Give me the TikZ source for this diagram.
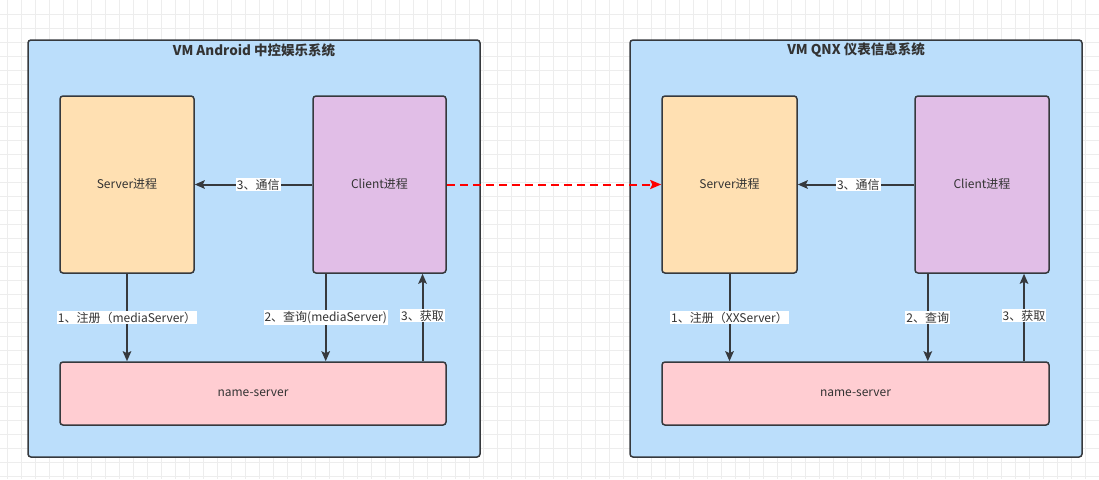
\documentclass[tikz,border=0pt]{standalone}
\usepackage{fontspec}
\setmainfont{Noto Sans CJK SC}
\usetikzlibrary{calc,positioning,arrows.meta}
\definecolor{vmblue}{HTML}{BBDEFB}
\definecolor{srvorange}{HTML}{FFE0B2}
\definecolor{clipurple}{HTML}{E1BEE7}
\definecolor{nspink}{HTML}{FFCDD2}
\definecolor{edge}{HTML}{36393D}
\definecolor{txt}{HTML}{333333}
\tikzset{
  vm/.style={draw=edge,line width=1.5pt,rounded corners=3pt,fill=vmblue,
             minimum width=452pt,minimum height=417pt},
  proc/.style={draw=edge,line width=1.5pt,rounded corners=3pt,font=\fontsize{12}{14}\selectfont,
               text=txt,minimum height=177pt},
  lbl/.style={fill=white,inner sep=1pt,font=\fontsize{12}{14}\selectfont,text=txt},
  arr/.style={-{Stealth[length=10pt,width=8.5pt,inset=2pt]},line width=2pt,edge},
  rpc/.style={-{Stealth[length=11pt,width=9pt,inset=2pt]},line width=2pt,red,
              dash pattern=on 8pt off 5pt}
}
\begin{document}
\begin{tikzpicture}[x=1pt,y=-1pt]
  \useasboundingbox (0,0) rectangle (1099,479);
  % grid
  \foreach \gx in {0,...,78} \draw[line width=1pt,black!7] (7+14*\gx,0) -- (7+14*\gx,479);
  \foreach \gy in {1,...,34} \draw[line width=1pt,black!7] (0,14*\gy) -- (1099,14*\gy);

  % VM Android
  \node[vm] (av) at (254,248.5) {};
  \node[font=\bfseries\fontsize{13.5}{15}\selectfont,text=txt] (avt) at (254,50) {VM Android 中控娱乐系统};
  \node[proc,fill=srvorange,minimum width=134pt] (as) at (127,184.5) {Server进程};
  \node[proc,fill=clipurple,minimum width=133pt] (ac) at (379.5,184.5) {Client进程};
  \node[proc,fill=nspink,minimum width=386pt,minimum height=63pt] (an) at (253,393.5) {name-server};

  % VM QNX
  \node[vm] (qv) at (856,248.5) {};
  \node[font=\bfseries\fontsize{13.5}{15}\selectfont,text=txt] (qvt) at (856,50) {VM QNX 仪表信息系统};
  \node[proc,fill=srvorange,minimum width=135pt] (qs) at (729.5,184.5) {Server进程};
  \node[proc,fill=clipurple,minimum width=134pt] (qc) at (982,184.5) {Client进程};
  \node[proc,fill=nspink,minimum width=387pt,minimum height=63pt] (qn) at (855.5,393.5) {name-server};

  % Android arrows
  \draw[arr] (ac.west) -- (as.east) node[lbl,pos=0.46] {3、通信};
  \draw[arr] (as.south) -- (as.south |- an.north) node[lbl,midway] {1、注册（mediaServer）};
  \coordinate (aq) at ($(ac.south west)!0.1!(ac.south east)$);
  \coordinate (ag) at ($(ac.south west)!0.82!(ac.south east)$);
  \draw[arr] (aq) -- (aq |- an.north) node[lbl,midway] {2、查询(mediaServer)};
  \draw[arr] (ag |- an.north) -- (ag) node[lbl,pos=0.52] {3、获取};

  % QNX arrows
  \draw[arr] (qc.west) -- (qs.east) node[lbl,pos=0.48] {3、通信};
  \draw[arr] (qs.south) -- (qs.south |- qn.north) node[lbl,midway] {1、注册（XXServer）};
  \coordinate (qq) at ($(qc.south west)!0.1!(qc.south east)$);
  \coordinate (qg) at ($(qc.south west)!0.81!(qc.south east)$);
  \draw[arr] (qq) -- (qq |- qn.north) node[lbl,midway] {2、查询};
  \draw[arr] (qg |- qn.north) -- (qg) node[lbl,pos=0.52] {3、获取};

  % cross-VM call
  \draw[rpc] (ac.east) -- (qs.west);
\end{tikzpicture}
\end{document}
